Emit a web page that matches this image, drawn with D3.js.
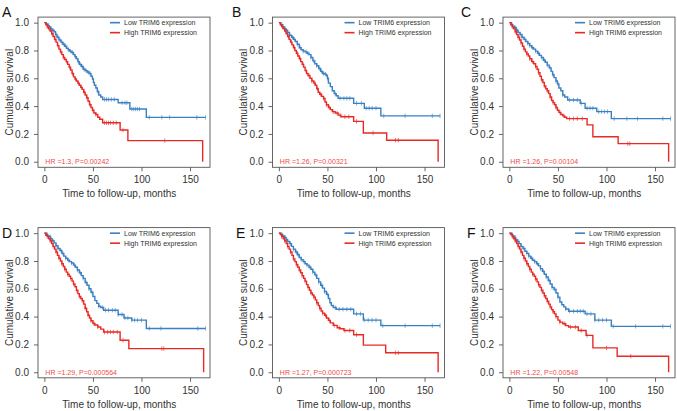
<!DOCTYPE html>
<html><head><meta charset="utf-8">
<script src="https://cdn.jsdelivr.net/npm/d3@7"></script>
<style>
html,body{margin:0;padding:0;background:#fff;}
svg{display:block;font-family:"Liberation Sans",Arial,Helvetica,sans-serif;}
</style></head>
<body><svg id="c" width="677" height="411"></svg>
<script>
// ---------- data ----------
const panelLetters = ["A","B","C","D","E","F"];
const hrLabels = ["HR =1.3, P=0.00242","HR =1.26, P=0.00321","HR =1.26, P=0.00104",
                  "HR =1.29, P=0.000564","HR =1.27, P=0.000723","HR =1.22, P=0.00548"];
const legendLabels = ["Low TRIM6 expression","High TRIM6 expression"];
const xTicks = [0,50,100,150];
const yTicks = [0,0.2,0.4,0.6,0.8,1.0];
const xTitle = "Time to follow-up, months";
const yTitle = "Cumulative survival";

// step points [month, survival] ; Low = blue, High = red
const lowA = [[0,1],[2,0.99],[3.5,0.98],[5,0.97],[6.5,0.955],[8,0.945],[10,0.935],[11.5,0.915],[13,0.895],[15,0.875],[17,0.86],[19,0.845],[21,0.83],[23,0.815],[24.5,0.805],[26,0.795],[28,0.785],[30,0.77],[31.5,0.755],[33,0.74],[34.5,0.72],[36,0.70],[38,0.685],[40,0.665],[42,0.655],[44,0.645],[46,0.635],[48,0.615],[49.5,0.595],[50.5,0.57],[51.5,0.55],[53,0.53],[54.5,0.505],[56,0.48],[58,0.465],[60,0.448],[76,0.424],[88,0.379],[105,0.319],[166,0.319]];
const highA = [[0,1],[1.5,0.985],[3,0.97],[4.5,0.955],[6,0.94],[7.5,0.92],[9,0.9],[10.5,0.88],[12,0.86],[13.5,0.835],[15,0.81],[16.5,0.79],[18,0.77],[19.5,0.75],[21,0.735],[22.5,0.72],[24,0.7],[25.5,0.68],[27,0.66],[28.5,0.635],[30,0.61],[31.5,0.595],[33,0.58],[34.5,0.565],[36,0.55],[37.5,0.535],[39,0.52],[40.5,0.5],[42,0.48],[43.5,0.46],[45,0.435],[46.5,0.41],[48,0.39],[49.5,0.37],[51,0.35],[53,0.34],[55,0.32],[57,0.305],[60,0.28],[78,0.228],[86,0.152],[163,0]];
const lowB = [[0,1],[2,0.985],[4,0.97],[6,0.955],[7.5,0.945],[9,0.93],[11,0.91],[13,0.895],[15,0.88],[17,0.865],[19,0.845],[21,0.82],[23,0.805],[25,0.795],[27,0.79],[29,0.78],[31,0.77],[33,0.75],[35,0.725],[37,0.705],[39,0.69],[41,0.67],[43,0.65],[45,0.635],[47,0.63],[49,0.62],[50,0.6],[51,0.565],[53,0.54],[55,0.51],[57,0.49],[59,0.475],[61,0.456],[77,0.42],[88,0.385],[105,0.33],[166,0.33]];
const highB = [[0,1],[1.5,0.985],[3,0.97],[4.5,0.955],[6,0.94],[7.5,0.92],[9,0.9],[10.5,0.88],[12,0.86],[13.5,0.84],[15,0.82],[16.5,0.8],[18,0.78],[19.5,0.76],[21,0.74],[22.5,0.72],[24,0.7],[25.5,0.68],[27,0.655],[28.5,0.635],[30,0.62],[32,0.6],[34,0.58],[36,0.565],[37.5,0.55],[39,0.525],[40.5,0.5],[42,0.485],[44,0.47],[46,0.455],[47.5,0.43],[49,0.41],[51,0.39],[53,0.375],[55,0.36],[58,0.35],[61,0.335],[64,0.324],[77,0.29],[87,0.207],[111,0.155],[164,0]];
const lowC = [[0,1],[2,0.985],[3.5,0.975],[5,0.965],[7,0.945],[9,0.93],[11,0.915],[13,0.895],[15,0.88],[17,0.865],[19,0.85],[21,0.835],[23,0.82],[25,0.81],[27,0.795],[29,0.78],[31,0.765],[33,0.75],[35,0.73],[37,0.715],[39,0.695],[41,0.675],[43,0.65],[44.5,0.625],[46,0.605],[48,0.58],[49.5,0.56],[51,0.53],[53,0.51],[55,0.48],[57,0.465],[60,0.444],[73,0.42],[78,0.385],[90,0.36],[105,0.31],[166,0.31]];
const highC = [[0,1],[1.5,0.985],[3,0.97],[4.5,0.955],[6,0.935],[7.5,0.915],[9,0.895],[10.5,0.875],[12,0.855],[13.5,0.83],[15,0.81],[16.5,0.79],[18,0.775],[19.5,0.76],[21,0.74],[23,0.72],[25,0.705],[27,0.685],[28.5,0.665],[30,0.64],[31.5,0.615],[33,0.59],[34.5,0.57],[36,0.545],[37.5,0.525],[39,0.51],[40.5,0.49],[42,0.465],[43.5,0.44],[45,0.425],[46.5,0.41],[48,0.39],[49.5,0.37],[51,0.355],[53,0.34],[55,0.33],[57,0.32],[59,0.31],[80,0.265],[86,0.18],[112,0.13],[164,0]];
const lowD = [[0,1],[2,0.99],[3.5,0.98],[5,0.975],[6.5,0.96],[8,0.945],[10,0.93],[12,0.91],[14,0.89],[16,0.875],[18,0.855],[20,0.835],[22,0.82],[24,0.805],[26,0.795],[28,0.785],[30,0.77],[32,0.755],[34,0.735],[36,0.715],[38,0.695],[40,0.675],[42,0.645],[44,0.625],[46,0.6],[48,0.575],[50,0.545],[52,0.515],[54,0.495],[56,0.475],[58,0.465],[61,0.446],[76,0.415],[82,0.39],[90,0.375],[105,0.315],[166,0.315]];
const highD = [[0,1],[1.5,0.985],[3,0.975],[4.5,0.96],[6,0.945],[7.5,0.925],[9,0.905],[10.5,0.885],[12,0.865],[13.5,0.84],[15,0.82],[16.5,0.8],[18,0.78],[19.5,0.76],[21,0.74],[22.5,0.72],[24,0.705],[25.5,0.69],[27,0.675],[28.5,0.655],[30,0.635],[31.5,0.615],[33,0.59],[34.5,0.565],[36,0.545],[37.5,0.53],[39,0.515],[40.5,0.49],[42,0.46],[43.5,0.435],[45,0.41],[46.5,0.39],[48,0.37],[50,0.35],[52,0.34],[55,0.325],[58,0.31],[61,0.289],[78,0.23],[87,0.17],[164,0]];
const lowE = [[0,1],[2,0.99],[4,0.98],[6,0.97],[7.5,0.955],[9,0.94],[11,0.925],[13,0.905],[15,0.885],[17,0.865],[19,0.845],[21,0.825],[23,0.81],[25,0.795],[27,0.78],[29,0.77],[31,0.755],[33,0.74],[35,0.72],[37,0.7],[39,0.675],[41,0.65],[43,0.625],[45,0.605],[47,0.58],[49,0.56],[51,0.53],[52.5,0.5],[54,0.48],[56,0.465],[59,0.453],[77,0.42],[87,0.375],[105,0.335],[166,0.335]];
const highE = [[0,1],[1.5,0.99],[3,0.975],[4.5,0.96],[6,0.945],[7.5,0.925],[9,0.905],[10.5,0.885],[12,0.865],[13.5,0.84],[15,0.815],[16.5,0.795],[18,0.775],[19.5,0.755],[21,0.735],[22.5,0.715],[24,0.695],[25.5,0.675],[27,0.655],[28.5,0.63],[30,0.61],[31.5,0.59],[33,0.57],[34.5,0.555],[36,0.54],[37.5,0.52],[39,0.5],[40.5,0.48],[42,0.46],[43.5,0.44],[45,0.425],[47,0.41],[49,0.39],[51,0.373],[53,0.355],[56,0.337],[60,0.32],[63,0.313],[67,0.3],[77,0.27],[87,0.195],[110,0.14],[164,0]];
const lowF = [[0,1],[2,0.99],[3.5,0.98],[5,0.97],[6.5,0.955],[8,0.94],[10,0.925],[12,0.905],[14,0.89],[16,0.87],[18,0.855],[20,0.835],[22,0.82],[24,0.805],[26,0.795],[28,0.78],[30,0.765],[32,0.745],[34,0.725],[36,0.705],[38,0.685],[40,0.66],[42,0.635],[44,0.61],[46,0.595],[48,0.57],[50,0.54],[52,0.505],[54,0.485],[56,0.47],[58,0.455],[61,0.439],[78,0.42],[88,0.375],[105,0.33],[166,0.33]];
const highF = [[0,1],[1.5,0.99],[3,0.975],[4.5,0.96],[6,0.945],[7.5,0.925],[9,0.905],[10.5,0.885],[12,0.865],[13.5,0.84],[15,0.82],[16.5,0.8],[18,0.78],[19.5,0.76],[21,0.74],[22.5,0.72],[24,0.705],[25.5,0.69],[27,0.67],[28.5,0.65],[30,0.63],[31.5,0.61],[33,0.59],[34.5,0.57],[36,0.55],[37.5,0.53],[39,0.51],[40.5,0.49],[42,0.47],[43.5,0.45],[45,0.435],[46.5,0.42],[48,0.4],[50,0.375],[52,0.36],[55,0.349],[58,0.335],[61,0.325],[71,0.3],[79,0.265],[86,0.175],[111,0.115],[164,0]];

// censored times (months)
const censLowA = [4,7,9,12,14,16,18,20,22,25,27,29,32,35,37,39,41,43,45,47,55,62,64,66,69,72,80,83,85,90,92,94,96,98,108,121,129,157,166];
const censHighA = [3,5,8,11,14,17,20,23,26,29,32,35,38,41,44,47,50,53,62,64,66,68,71,74,81,124];
const censLowB = [3,6,9,11,14,16,19,22,25,28,30,33,36,39,42,44,46,48,50,58,63,67,70,73,80,85,90,93,96,100,108,130,158,166];
const censHighB = [4,7,10,13,16,19,22,25,28,31,34,37,40,43,46,49,52,56,60,63,68,72,80,97,120,123];
const censLowC = [3,6,8,11,13,16,19,21,24,27,30,33,36,39,42,45,48,50,55,62,66,70,74,80,83,86,92,95,98,101,108,121,132,158,166];
const censHighC = [3,6,9,12,15,18,21,24,27,30,33,36,39,42,45,48,52,56,62,66,70,75,122,124];
const censLowD = [3,6,9,12,14,17,19,22,25,28,31,34,37,40,43,46,49,56,60,63,66,70,73,76,80,83,86,90,93,96,100,108,120,158,166];
const censHighD = [3,6,9,12,15,18,21,24,27,30,33,36,39,42,45,48,51,55,62,65,68,71,75,81,121,123];
const censLowE = [3,6,9,12,15,18,20,23,26,29,32,35,38,41,44,47,50,58,62,66,70,74,80,84,88,92,96,100,107,130,158,166];
const censHighE = [3,6,9,12,15,18,21,24,27,30,33,36,39,42,45,48,52,57,62,68,73,80,120,123];
const censLowF = [3,6,9,12,15,18,20,23,26,29,32,35,38,41,44,47,50,58,62,66,70,73,76,80,84,88,92,96,100,107,130,158,166];
const censHighF = [3,6,9,12,15,18,21,24,27,30,33,36,39,42,45,48,52,57,63,68,74,80,100,125];

// ---------- layout ----------
const panelOffsets = [[0,0],[234.5,0],[465,0],[0,210.5],[234.5,210.5],[465,210.5]];
const letterPos = [[2,17],[232,17],[461,17],[2,238],[236,238],[467,238]];
const box = {x0:38, x1:210, y0:17.1, y1:167.3};
const blue = "#3b80c2", red = "#e82a26", hrColor = "#ef4b4b";

const lows = [lowA,lowB,lowC,lowD,lowE,lowF];
const highs = [highA,highB,highC,highD,highE,highF];
const censLows = [censLowA,censLowB,censLowC,censLowD,censLowE,censLowF];
const censHighs = [censHighA,censHighB,censHighC,censHighD,censHighE,censHighF];

const svg = d3.select("#c");
const x = d3.scaleLinear().domain([-6.56,170.56]).range([box.x0, box.x1]);
const y = d3.scaleLinear().domain([-0.04,1.04]).range([box.y1, box.y0]);
const line = d3.line().x(d=>x(d[0])).y(d=>y(d[1])).curve(d3.curveStepAfter);
function survAt(curve,t){ let s=curve[0][1]; for(const p of curve){ if(p[0]<=t) s=p[1]; else break;} return s; }

panelLetters.forEach((L,i)=>{
  const g = svg.append("g").attr("transform",`translate(${panelOffsets[i][0]},${panelOffsets[i][1]})`);
  // box
  g.append("rect").attr("x",box.x0).attr("y",box.y0).attr("width",box.x1-box.x0).attr("height",box.y1-box.y0)
    .attr("fill","none").attr("stroke","#555").attr("stroke-width",0.9);
  // axes
  const ya = g.append("g").attr("transform",`translate(${box.x0},0)`)
    .call(d3.axisLeft(y).tickValues(yTicks).tickFormat(d3.format(".1f")).tickSize(4).tickPadding(5));
  const xa = g.append("g").attr("transform",`translate(0,${box.y1})`)
    .call(d3.axisBottom(x).tickValues(xTicks).tickFormat(d3.format("d")).tickSize(4).tickPadding(5));
  [ya,xa].forEach(a=>{
    a.select(".domain").remove();
    a.selectAll("line").attr("stroke","#555").attr("stroke-width",0.9);
    a.selectAll("text").attr("fill","#333").style("font-size","10px").style("font-family","'Liberation Sans',Arial,sans-serif");
  });
  // titles
  g.append("text").attr("x",(x(0)+x(150))/2+2).attr("y",197).attr("text-anchor","middle")
    .attr("fill","#333").style("font-size","10px").text(xTitle);
  g.append("text").attr("transform",`translate(12.5,${(box.y0+box.y1)/2}) rotate(-90)`).attr("text-anchor","middle")
    .attr("fill","#333").style("font-size","10px").text(yTitle);
  // curves
  const series = [{d:lows[i],c:censLows[i],col:blue},{d:highs[i],c:censHighs[i],col:red}];
  series.forEach(s=>{
    g.append("path").attr("d",line(s.d)).attr("fill","none").attr("stroke",s.col).attr("stroke-width",1.4);
    g.selectAll(null).data(s.c).enter().append("line")
      .attr("x1",t=>x(t)).attr("x2",t=>x(t))
      .attr("y1",t=>y(survAt(s.d,t))-2.2).attr("y2",t=>y(survAt(s.d,t))+2.2)
      .attr("stroke",s.col).attr("stroke-width",0.8).attr("opacity",0.8);
  });
  // legend
  legendLabels.forEach((lab,j)=>{
    const ly = y(1.0)+j*10;
    g.append("line").attr("x1",110).attr("x2",120).attr("y1",ly).attr("y2",ly)
      .attr("stroke",j===0?blue:red).attr("stroke-width",1.6);
    g.append("text").attr("x",124).attr("y",ly+2.5).attr("fill","#333").style("font-size","7px").text(lab);
  });
  // HR
  g.append("text").attr("x",x(0)+1).attr("y",y(0)+2.5).attr("fill",hrColor).style("font-size","7px").text(hrLabels[i]);
  // letter
  svg.append("text").attr("x",letterPos[i][0]).attr("y",letterPos[i][1]).attr("fill","#111")
    .style("font-size","14px").text(L);
});
</script></body></html>
